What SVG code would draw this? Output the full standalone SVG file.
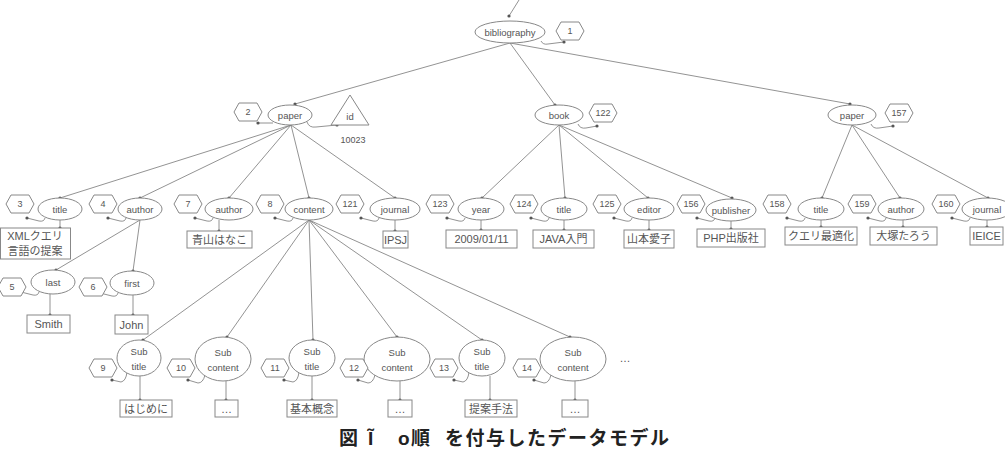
<svg xmlns="http://www.w3.org/2000/svg" xmlns:xlink="http://www.w3.org/1999/xlink" width="1005" height="451" viewBox="0 0 1005 451">
<style>
text{font-family:"Liberation Sans","Noto Sans CJK JP",sans-serif;fill:#555;text-anchor:middle;dominant-baseline:central}
.lb{font-size:9.5px}
.nm{font-size:9px}
.vl{font-size:11px}
.el{fill:#fff;stroke:#888;stroke-width:1}
.bx{fill:#fff;stroke:#888;stroke-width:1}
.hx{fill:#fff;stroke:#888;stroke-width:1}
.ed{fill:none;stroke:#777;stroke-width:0.8;marker-end:url(#dot)}
.cap{font-size:19px;font-weight:bold;fill:#222;text-anchor:start;letter-spacing:1.5px}
</style>
<defs>
<marker id="dot" viewBox="0 0 4 4" refX="2" refY="2" markerWidth="4" markerHeight="4" markerUnits="userSpaceOnUse"><circle cx="2" cy="2" r="1.6" fill="#555"/></marker>
<polygon id="hex" class="hx" points="-14,0 -9,-9 9,-9 14,0 9,9 -9,9"/>
</defs>
<rect width="1005" height="451" fill="#fff"/>

<g id="connectors">
<path class="ed" d="M519,0 L509,16"/>
<path class="ed" d="M541,41 Q543,45 548,44 L564,42"/>
<path class="ed" d="M510,43 L295,104"/>
<path class="ed" d="M510,43 L555,105"/>
<path class="ed" d="M510,43 L850,104"/>
<path class="ed" d="M273,123 L258,123"/>
<path class="ed" d="M307,122 Q309,128 316,127 L337,125"/>
<path class="ed" d="M578,124 Q580,129 586,128 L597,126"/>
<path class="ed" d="M871,124 Q873,129 879,128 L893,126"/>
<path class="ed" d="M291,125 L60,198"/>
<path class="ed" d="M291,125 L140,198"/>
<path class="ed" d="M291,125 L229,198"/>
<path class="ed" d="M291,125 L309,198"/>
<path class="ed" d="M291,125 L395,198"/>
<path class="ed" d="M559,125 L482,198"/>
<path class="ed" d="M559,125 L565,198"/>
<path class="ed" d="M559,125 L648,198"/>
<path class="ed" d="M559,125 L732,198"/>
<path class="ed" d="M852,125 L822,198"/>
<path class="ed" d="M852,125 L900,198"/>
<path class="ed" d="M852,125 L988,198"/>
<path class="ed" d="M140,220 L56,270"/>
<path class="ed" d="M140,220 L133,271"/>
<path class="ed" d="M309,220 L143,340"/>
<path class="ed" d="M309,220 L227,337"/>
<path class="ed" d="M309,220 L313,340"/>
<path class="ed" d="M309,220 L397,337"/>
<path class="ed" d="M309,220 L482,340"/>
<path class="ed" d="M309,220 L570,337"/>
<path class="ed" d="M45,218 Q44,222 39,221 L27,218"/>
<path class="ed" d="M126,218 Q125,222 120,221 L108,218"/>
<path class="ed" d="M213,218 Q212,222 207,221 L195,218"/>
<path class="ed" d="M293,218 Q292,222 287,221 L275,218"/>
<path class="ed" d="M379,218 Q378,222 373,221 L361,218"/>
<path class="ed" d="M465,218 Q464,222 459,221 L447,218"/>
<path class="ed" d="M549,218 Q548,222 543,221 L531,218"/>
<path class="ed" d="M632,218 Q631,222 626,221 L614,218"/>
<path class="ed" d="M715,218 Q714,222 709,221 L697,218"/>
<path class="ed" d="M805,218 Q804,222 799,221 L787,218"/>
<path class="ed" d="M886,218 Q885,222 880,221 L868,218"/>
<path class="ed" d="M970,218 Q969,222 964,221 L952,218"/>
<path class="ed" d="M39,292 Q38,296 33,295 L21,292"/>
<path class="ed" d="M118,293 Q117,297 112,296 L100,293"/>
<path class="ed" d="M127,372 Q126,381 121,382 L112,380"/>
<path class="ed" d="M205,375 Q203,383 198,383 L188,380"/>
<path class="ed" d="M299,372 Q298,381 293,382 L284,380"/>
<path class="ed" d="M375,375 Q373,383 368,383 L358,380"/>
<path class="ed" d="M469,372 Q468,381 463,382 L454,380"/>
<path class="ed" d="M551,375 Q549,383 544,383 L534,380"/>
<path class="ed" d="M60,220 L60,228"/>
<path class="ed" d="M219,220 L219,231"/>
<path class="ed" d="M395,220 L395,231"/>
<path class="ed" d="M481,220 L481,230"/>
<path class="ed" d="M564,220 L564,230"/>
<path class="ed" d="M649,220 L649,230"/>
<path class="ed" d="M731,221 L731,229"/>
<path class="ed" d="M821,220 L821,227"/>
<path class="ed" d="M903,220 L903,227"/>
<path class="ed" d="M987,220 L987,227"/>
<path class="ed" d="M50,294 L50,315"/>
<path class="ed" d="M133,295 L133,315"/>
<path class="ed" d="M140,376 L140,400"/>
<path class="ed" d="M226,381 L226,400"/>
<path class="ed" d="M312,376 L312,400"/>
<path class="ed" d="M400,381 L400,400"/>
<path class="ed" d="M490,376 L490,400"/>
<path class="ed" d="M575,381 L575,400"/>
</g>

<g id="n-bibliography"><ellipse class="el" cx="510" cy="32" rx="35" ry="11"/><text class="lb" x="510" y="32">bibliography</text></g>
<g id="n-1"><use href="#hex" x="570" y="31"/><text class="nm" x="570" y="31">1</text></g>

<g id="n-paper1"><ellipse class="el" cx="290" cy="115" rx="22" ry="10"/><text class="lb" x="290" y="115">paper</text></g>
<g id="n-2"><use href="#hex" x="248" y="112"/><text class="nm" x="248" y="112">2</text></g>
<g id="n-id"><polygon class="hx" points="350,95 331,125 369,125"/><text class="lb" x="350" y="116">id</text><text class="nm" x="353" y="140">10023</text></g>

<g id="n-book"><ellipse class="el" cx="559" cy="115" rx="24" ry="10"/><text class="lb" x="559" y="115">book</text></g>
<g id="n-122"><use href="#hex" x="603" y="113"/><text class="nm" x="603" y="113">122</text></g>

<g id="n-paper3"><ellipse class="el" cx="852" cy="115" rx="24" ry="10"/><text class="lb" x="852" y="115">paper</text></g>
<g id="n-157"><use href="#hex" x="899" y="113"/><text class="nm" x="899" y="113">157</text></g>

<g id="n-title3"><ellipse class="el" cx="60" cy="209" rx="22" ry="11"/><text class="lb" x="60" y="209">title</text><use href="#hex" x="20" y="204"/><text class="nm" x="20" y="204">3</text></g>
<g id="n-author4"><ellipse class="el" cx="140" cy="209" rx="22" ry="11"/><text class="lb" x="140" y="209">author</text><use href="#hex" x="103" y="204"/><text class="nm" x="103" y="204">4</text></g>
<g id="n-author7"><ellipse class="el" cx="229" cy="209" rx="24" ry="11"/><text class="lb" x="229" y="209">author</text><use href="#hex" x="188" y="204"/><text class="nm" x="188" y="204">7</text></g>
<g id="n-content8"><ellipse class="el" cx="309" cy="209" rx="24" ry="11"/><text class="lb" x="309" y="209">content</text><use href="#hex" x="270" y="204"/><text class="nm" x="270" y="204">8</text></g>
<g id="n-journal121"><ellipse class="el" cx="395" cy="209" rx="25" ry="11"/><text class="lb" x="395" y="209">journal</text><use href="#hex" x="350" y="204"/><text class="nm" x="350" y="204">121</text></g>
<g id="n-year123"><ellipse class="el" cx="481" cy="209" rx="23" ry="11"/><text class="lb" x="481" y="209">year</text><use href="#hex" x="440" y="204"/><text class="nm" x="440" y="204">123</text></g>
<g id="n-title124"><ellipse class="el" cx="564" cy="209" rx="23" ry="11"/><text class="lb" x="564" y="209">title</text><use href="#hex" x="524" y="204"/><text class="nm" x="524" y="204">124</text></g>
<g id="n-editor125"><ellipse class="el" cx="649" cy="209" rx="25" ry="11"/><text class="lb" x="649" y="209">editor</text><use href="#hex" x="607" y="204"/><text class="nm" x="607" y="204">125</text></g>
<g id="n-publisher156"><ellipse class="el" cx="731" cy="210" rx="25" ry="11"/><text class="lb" x="731" y="210">publisher</text><use href="#hex" x="691" y="204"/><text class="nm" x="691" y="204">156</text></g>
<g id="n-title158"><ellipse class="el" cx="821" cy="209" rx="23" ry="11"/><text class="lb" x="821" y="209">title</text><use href="#hex" x="777" y="204"/><text class="nm" x="777" y="204">158</text></g>
<g id="n-author159"><ellipse class="el" cx="901" cy="209" rx="23" ry="11"/><text class="lb" x="901" y="209">author</text><use href="#hex" x="862" y="204"/><text class="nm" x="862" y="204">159</text></g>
<g id="n-journal160"><ellipse class="el" cx="987" cy="209" rx="25" ry="11"/><text class="lb" x="987" y="209">journal</text><use href="#hex" x="946" y="204"/><text class="nm" x="946" y="204">160</text></g>

<g id="n-last5"><ellipse class="el" cx="53" cy="282" rx="22" ry="12"/><text class="lb" x="53" y="282">last</text><use href="#hex" x="12" y="287"/><text class="nm" x="12" y="287">5</text></g>
<g id="n-first6"><ellipse class="el" cx="132" cy="283" rx="22" ry="12"/><text class="lb" x="132" y="283">first</text><use href="#hex" x="93" y="287"/><text class="nm" x="93" y="287">6</text></g>

<g id="v-xml"><rect class="bx" x="0.5" y="228" width="70" height="31"/><text class="vl" x="35" y="236">XMLクエリ</text><text class="vl" x="35" y="251">言語の提案</text></g>
<g id="v-aoyama"><rect class="bx" x="187" y="231" width="65" height="17"/><text class="vl" x="219.5" y="239.5">青山はなこ</text></g>
<g id="v-ipsj"><rect class="bx" x="383" y="231" width="25" height="17"/><text class="vl" x="395.5" y="239.5">IPSJ</text></g>
<g id="v-date"><rect class="bx" x="446" y="230" width="71" height="18"/><text class="vl" x="481.5" y="239">2009/01/11</text></g>
<g id="v-java"><rect class="bx" x="533" y="230" width="61" height="18"/><text class="vl" x="563.5" y="239">JAVA入門</text></g>
<g id="v-yamamoto"><rect class="bx" x="624" y="230" width="50" height="18"/><text class="vl" x="649" y="239">山本愛子</text></g>
<g id="v-php"><rect class="bx" x="697" y="229" width="68" height="18"/><text class="vl" x="731" y="238">PHP出版社</text></g>
<g id="v-query"><rect class="bx" x="785" y="227" width="72" height="18"/><text class="vl" x="821" y="236">クエリ最適化</text></g>
<g id="v-otsuka"><rect class="bx" x="870" y="227" width="67" height="18"/><text class="vl" x="903.5" y="236">大塚たろう</text></g>
<g id="v-ieice"><rect class="bx" x="970" y="227" width="33" height="18"/><text class="vl" x="986.5" y="236">IEICE</text></g>
<g id="v-smith"><rect class="bx" x="27" y="315" width="43" height="18"/><text class="vl" x="48.5" y="324">Smith</text></g>
<g id="v-john"><rect class="bx" x="115" y="315" width="33" height="19"/><text class="vl" x="131.5" y="324.5">John</text></g>

<g id="n-sub9"><ellipse class="el" cx="139" cy="358" rx="22" ry="18"/><text class="lb" x="139" y="351">Sub</text><text class="lb" x="139" y="366">title</text><use href="#hex" x="103" y="368"/><text class="nm" x="103" y="368">9</text></g>
<g id="n-sub10"><ellipse class="el" cx="223" cy="359" rx="28" ry="22"/><text class="lb" x="223" y="352">Sub</text><text class="lb" x="223" y="367">content</text><use href="#hex" x="181" y="368"/><text class="nm" x="181" y="368">10</text></g>
<g id="n-sub11"><ellipse class="el" cx="312" cy="358" rx="23" ry="18"/><text class="lb" x="312" y="351">Sub</text><text class="lb" x="312" y="366">title</text><use href="#hex" x="275" y="368"/><text class="nm" x="275" y="368">11</text></g>
<g id="n-sub12"><ellipse class="el" cx="397" cy="359" rx="33" ry="22"/><text class="lb" x="397" y="352">Sub</text><text class="lb" x="397" y="367">content</text><use href="#hex" x="354" y="368"/><text class="nm" x="354" y="368">12</text></g>
<g id="n-sub13"><ellipse class="el" cx="482" cy="358" rx="23" ry="18"/><text class="lb" x="482" y="351">Sub</text><text class="lb" x="482" y="366">title</text><use href="#hex" x="444" y="368"/><text class="nm" x="444" y="368">13</text></g>
<g id="n-sub14"><ellipse class="el" cx="573" cy="359" rx="33" ry="22"/><text class="lb" x="573" y="352">Sub</text><text class="lb" x="573" y="367">content</text><use href="#hex" x="527" y="368"/><text class="nm" x="527" y="368">14</text></g>
<text class="vl" x="625" y="358">…</text>

<g id="v-hajime"><rect class="bx" x="120" y="400" width="52" height="17"/><text class="vl" x="146" y="408.5">はじめに</text></g>
<g id="v-dots1"><rect class="bx" x="215" y="400" width="23" height="17"/><text class="vl" x="226.5" y="408.5">…</text></g>
<g id="v-kihon"><rect class="bx" x="287" y="400" width="50" height="17"/><text class="vl" x="312" y="408.5">基本概念</text></g>
<g id="v-dots2"><rect class="bx" x="388" y="400" width="24" height="17"/><text class="vl" x="400" y="408.5">…</text></g>
<g id="v-teian"><rect class="bx" x="465" y="400" width="52" height="17"/><text class="vl" x="491" y="408.5">提案手法</text></g>
<g id="v-dots3"><rect class="bx" x="562" y="400" width="26" height="17"/><text class="vl" x="575" y="408.5">…</text></g>

<text class="cap" y="438"><tspan x="339">図</tspan><tspan x="368">Ĩ</tspan><tspan x="398">o順</tspan><tspan x="445">を付与したデータモデル</tspan></text>
</svg>
